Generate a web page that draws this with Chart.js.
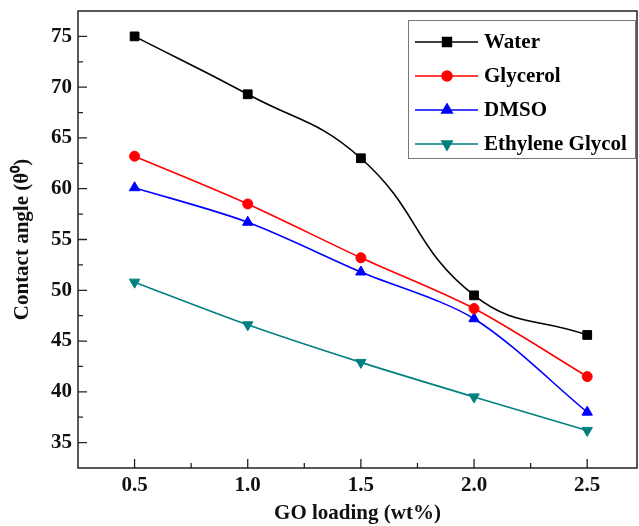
<!DOCTYPE html>
<html>
<head>
<meta charset="utf-8">
<script src="https://cdn.jsdelivr.net/npm/chart.js@4/dist/chart.umd.min.js"></script>
<style>
  html, body { margin: 0; padding: 0; background: #fff; }
  #wrap { width: 639px; height: 526px; }
</style>
</head>
<body>
<div id="wrap"><canvas id="angleChart" width="639" height="526"></canvas></div>
<script>
// GO loading (wt%)
const loadings = [0.5, 1.0, 1.5, 2.0, 2.5];
const water = [75.0, 69.3, 63.0, 49.5, 45.6];
const glycerol = [63.2, 58.5, 53.2, 48.2, 41.5];
const dmso = [60.1, 56.7, 51.8, 47.2, 38.0];
const ethyleneGlycol = [50.8, 46.6, 42.9, 39.5, 36.2];
const xTicks = [0.5, 1.0, 1.5, 2.0, 2.5];
const yTicks = [35, 40, 45, 50, 55, 60, 65, 70, 75];

const FONT = "'Liberation Serif', 'Times New Roman', serif";
const FSIZE = 21;

function pts(arr) {
    return loadings.map((x, i) => ({ x: x, y: arr[i] }));
}

function series(label, arr, color, style, radius, rotation, tension) {
    return {
        label: label,
        data: pts(arr),
        borderColor: color,
        backgroundColor: color,
        borderWidth: 1.6,
        pointStyle: style,
        pointRadius: radius,
        pointRotation: rotation || 0,
        pointBorderWidth: 1,
        tension: tension
    };
}

// box, inward ticks and the legend, drawn after the chart
const frame = {
    id: 'frame',
    afterDraw(chart) {
        const ctx = chart.ctx;
        const a = chart.chartArea;
        const xs = chart.scales.x, ys = chart.scales.y;
        ctx.save();
        ctx.strokeStyle = '#222';
        ctx.lineWidth = 1.5;
        ctx.strokeRect(a.left, a.top, a.right - a.left, a.bottom - a.top);

        ctx.lineWidth = 1.3;
        ctx.beginPath();
        xTicks.forEach(v => {
            const px = xs.getPixelForValue(v);
            ctx.moveTo(px, a.bottom); ctx.lineTo(px, a.bottom - 9);
            const pm = xs.getPixelForValue(v + 0.25);
            if (pm < a.right) { ctx.moveTo(pm, a.bottom); ctx.lineTo(pm, a.bottom - 5); }
        });
        yTicks.forEach(v => {
            const py = ys.getPixelForValue(v);
            ctx.moveTo(a.left, py); ctx.lineTo(a.left + 9, py);
            const pm = ys.getPixelForValue(v + 2.5);
            if (pm > a.top) { ctx.moveTo(a.left, pm); ctx.lineTo(a.left + 5, pm); }
        });
        ctx.stroke();

        // legend
        const lx = 408, ly = 20, lw = 227, lh = 138;
        ctx.fillStyle = '#fff';
        ctx.fillRect(lx, ly, lw, lh);
        ctx.strokeStyle = '#777';
        ctx.lineWidth = 1;
        ctx.strokeRect(lx + 0.5, ly + 0.5, lw, lh);
        const rows = [42, 76, 110, 144];
        chart.data.datasets.forEach((ds, i) => {
            const y = rows[i];
            ctx.strokeStyle = ds.borderColor;
            ctx.lineWidth = 1.6;
            ctx.beginPath();
            ctx.moveTo(415, y); ctx.lineTo(478, y);
            ctx.stroke();
            ctx.fillStyle = ds.borderColor;
            Chart.helpers.drawPoint(ctx, {
                pointStyle: ds.pointStyle,
                radius: ds.pointRadius,
                rotation: ds.pointRotation,
                borderWidth: 1
            }, 447, y);
            ctx.fillStyle = '#000';
            ctx.font = 'bold ' + FSIZE + 'px ' + FONT;
            ctx.textBaseline = 'middle';
            ctx.textAlign = 'left';
            ctx.fillText(ds.label, 484, y + 1);
        });
        ctx.restore();
    }
};

const ctx = document.getElementById('angleChart').getContext('2d');
const angleChart = new Chart(ctx, {
    type: 'line',
    data: {
        datasets: [
            series('Water', water, '#000000', 'rect', 6.2, 0, 0.45),
            series('Glycerol', glycerol, '#ff0000', 'circle', 5, 0, 0.3),
            series('DMSO', dmso, '#0000ff', 'triangle', 6, 0, 0.3),
            series('Ethylene Glycol', ethyleneGlycol, '#008080', 'triangle', 6, 180, 0.3)
        ]
    },
    options: {
        responsive: false,
        animation: false,
        layout: { autoPadding: false, padding: { top: 11, right: 2, left: 0, bottom: 0 } },
        plugins: {
            legend: { display: false },
            tooltip: { enabled: false }
        },
        scales: {
            x: {
                type: 'linear',
                min: 0.25,
                max: 2.72,
                afterBuildTicks: s => { s.ticks = xTicks.map(v => ({ value: v })); },
                afterFit: s => { s.height = 58; s.paddingLeft = 0; s.paddingRight = 0; },
                grid: { display: false, drawTicks: false },
                border: { display: false },
                ticks: {
                    color: '#111',
                    font: { family: FONT, size: FSIZE, weight: 'bold' },
                    padding: 5,
                    maxRotation: 0,
                    callback: v => Number(v).toFixed(1)
                },
                title: {
                    display: true,
                    text: 'GO loading (wt%)',
                    color: '#111',
                    font: { family: FONT, size: FSIZE, weight: 'bold' },
                    padding: { top: 2, bottom: 0 }
                }
            },
            y: {
                min: 32.5,
                max: 77.5,
                afterBuildTicks: s => { s.ticks = yTicks.map(v => ({ value: v })); },
                afterFit: s => { s.width = 78; s.paddingTop = 0; s.paddingBottom = 0; },
                grid: { display: false, drawTicks: false },
                border: { display: false },
                ticks: {
                    color: '#111',
                    font: { family: FONT, size: FSIZE, weight: 'bold' },
                    padding: 6
                },
                title: {
                    display: true,
                    text: 'Contact angle (θ⁰)',
                    color: '#111',
                    font: { family: FONT, size: FSIZE, weight: 'bold' },
                    padding: { top: 10, bottom: 4 }
                }
            }
        }
    },
    plugins: [frame]
});
</script>
</body>
</html>
